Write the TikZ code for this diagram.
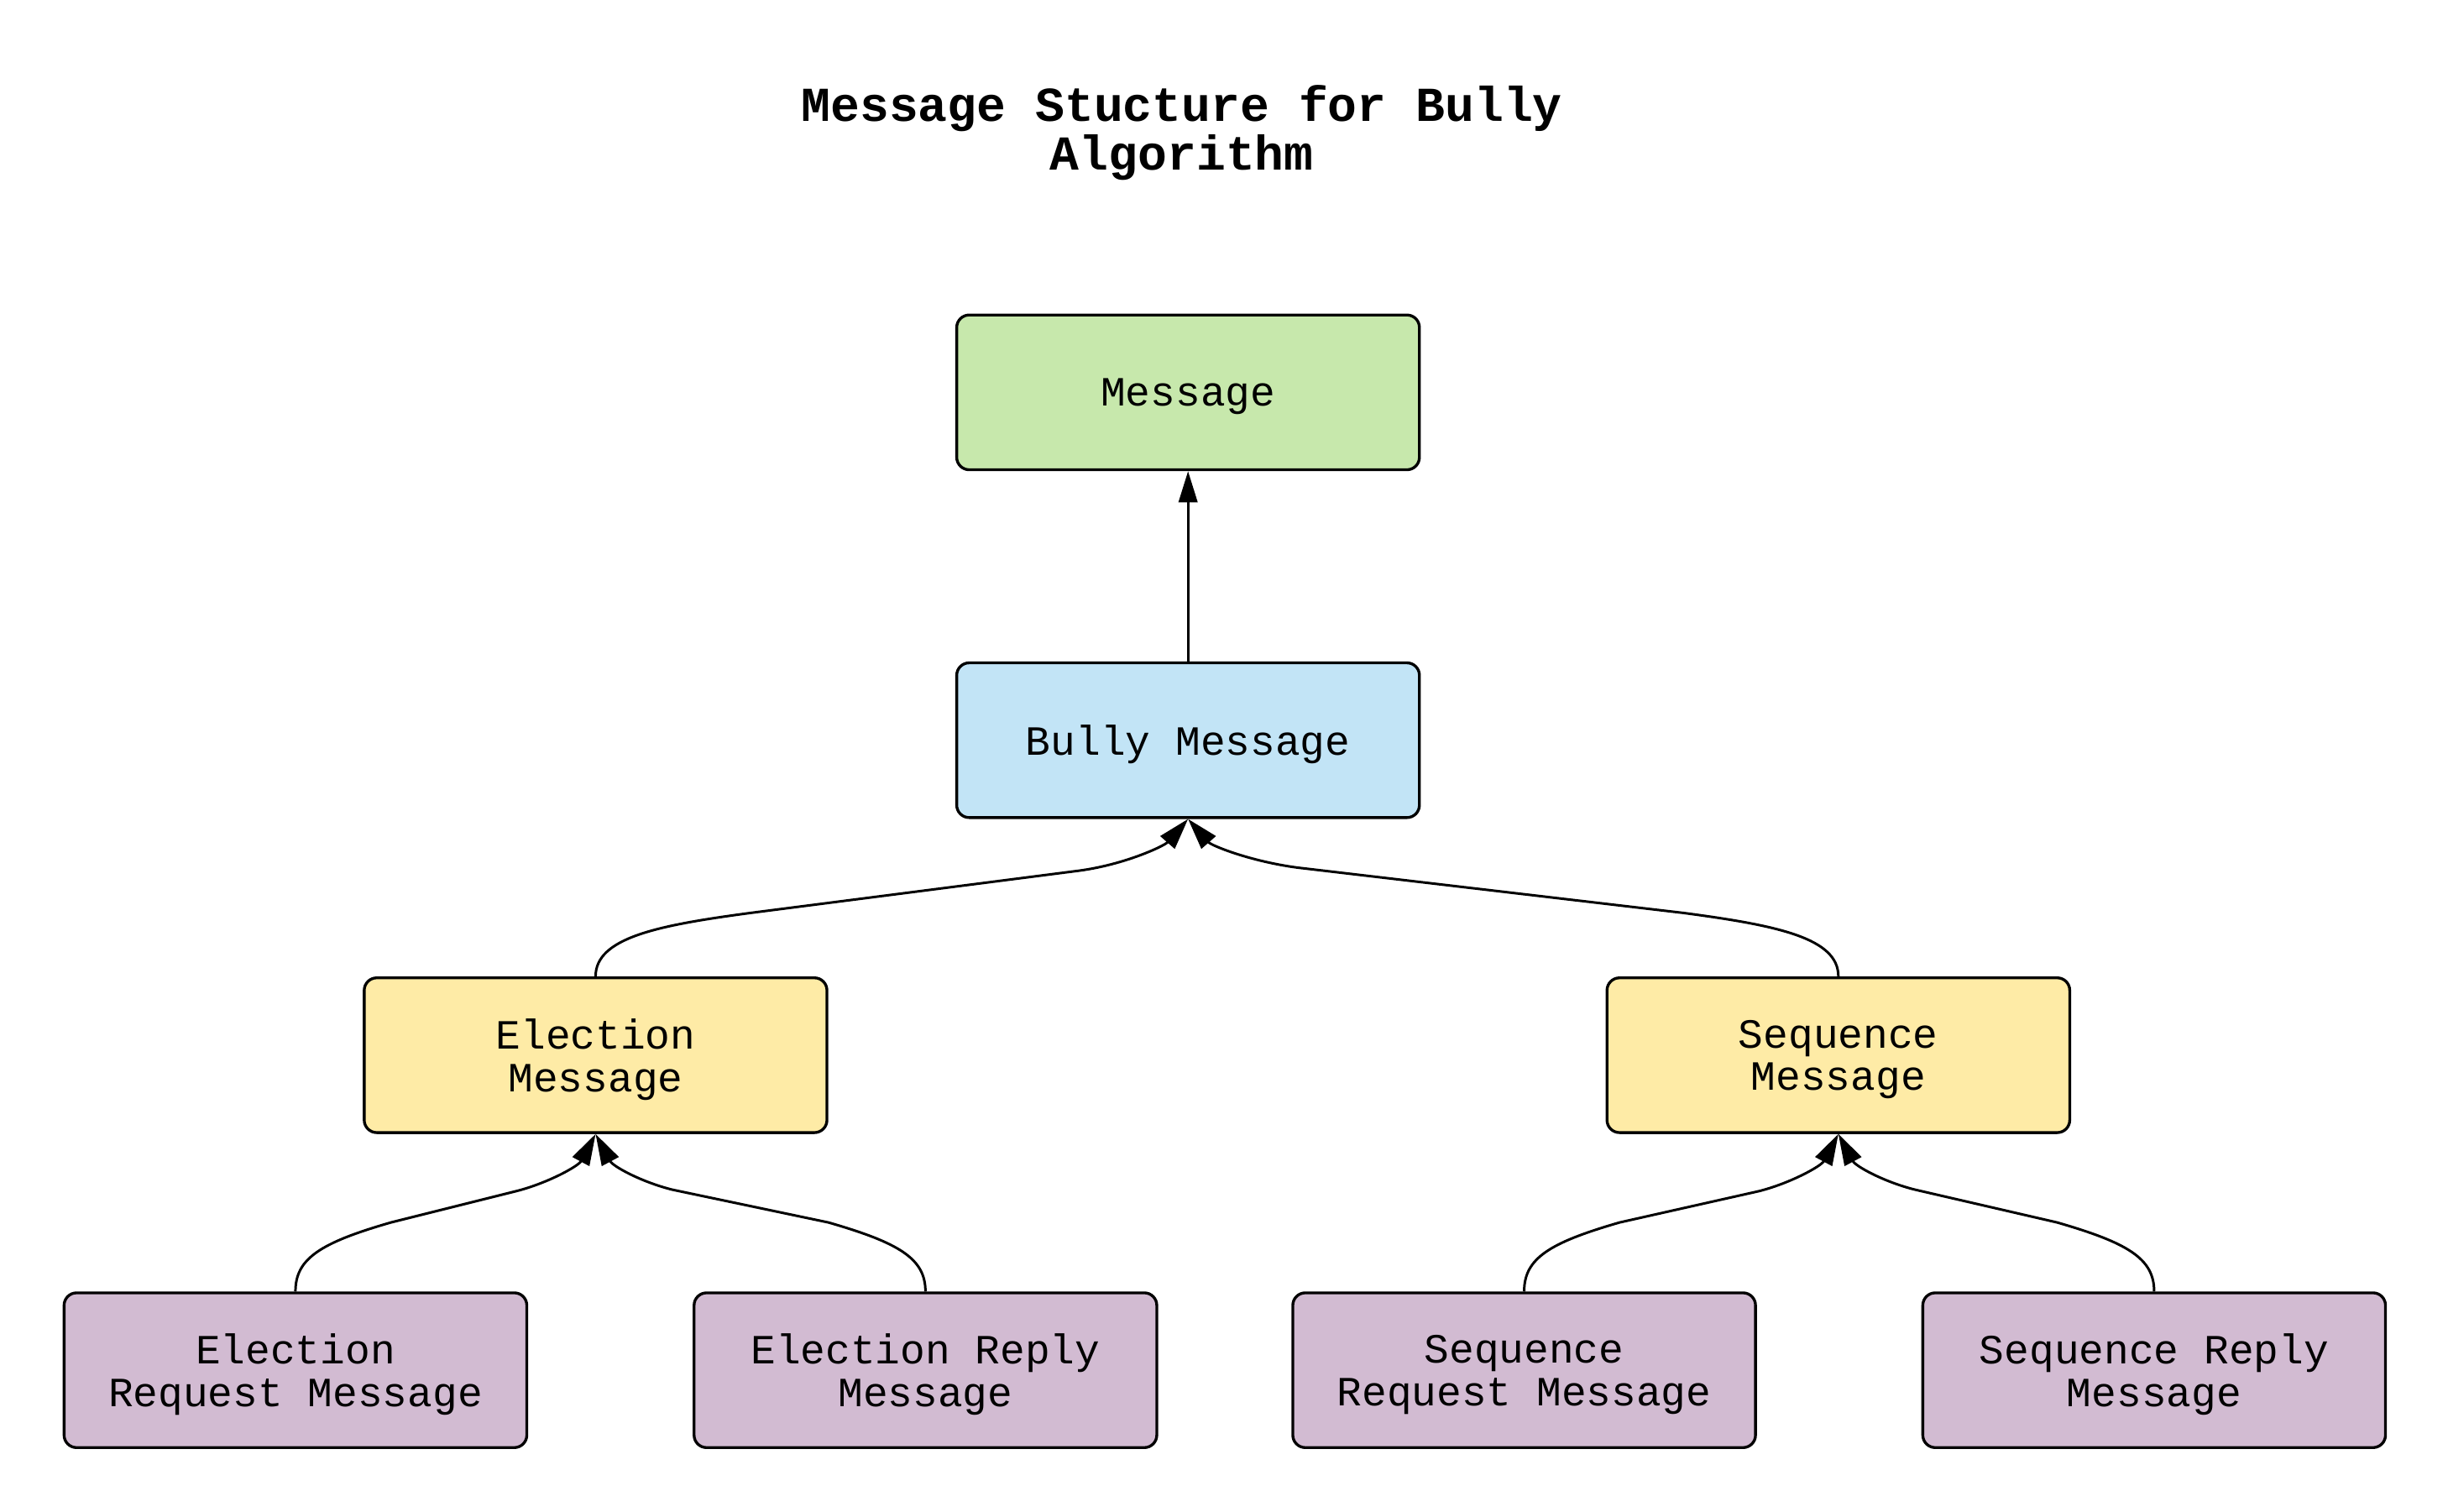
\documentclass[tikz,border=0pt]{standalone}
\usepackage{fontspec}
\setmainfont{Liberation Mono}
\usetikzlibrary{arrows.meta}
\definecolor{cgreen}{HTML}{C7E8AC}
\definecolor{cblue}{HTML}{C2E4F6}
\definecolor{cyellow}{HTML}{FEEBA6}
\definecolor{cpurple}{HTML}{D2BBD2}
\tikzset{
  box/.style={draw=black, line width=0.9pt, rounded corners=4pt, minimum width=148pt, minimum height=49.5pt, inner sep=0pt, align=center, text depth=0pt, font=\fontsize{13.3}{13.6}\selectfont},
  arr/.style={line width=0.8pt, -{Triangle[length=10pt,width=6pt]}},
}
\begin{document}
\begin{tikzpicture}[x=0.5pt,y=-0.5pt]
\useasboundingbox (0,0) rectangle (1566,966.7);
\node[font=\fontsize{15.6}{15.5}\selectfont\bfseries, align=center] (title) at (756,85) {Message Stucture for Bully\\Algorithm};
\node[box, fill=cgreen] (M) at (760,251) {Message};
\node[box, fill=cblue] (B) at (760,473.5) {Bully Message};
\node[box, fill=cyellow] (E) at (381,675) {Election\\Message};
\node[box, fill=cyellow] (S) at (1176,675) {Sequence\\Message};
\node[box, fill=cpurple] (ER) at (189,876.5) {Election\\Request Message};
\node[box, fill=cpurple] (EP) at (592,876.5) {Election Reply\\Message};
\node[box, fill=cpurple] (SR) at (975,876.5) {Sequence\\Request Message};
\node[box, fill=cpurple] (SP) at (1378,876.5) {Sequence Reply\\Message};
\draw[arr] (B.north) -- (M.south);
\draw[arr] (E.north) .. controls (381,600) and (420,592) .. (480,584) -- (690,557) .. controls (720,553) and (745,541) .. (B.south);
\draw[arr] (S.north) .. controls (1176,600) and (1137,592) .. (1077,584) -- (830,555) .. controls (800,551) and (775,541) .. (B.south);
\draw[arr] (ER.north) .. controls (189,805) and (205,795) .. (250,782) -- (330,762) .. controls (350,757) and (370,746) .. (E.south);
\draw[arr] (EP.north) .. controls (592,805) and (575,795) .. (530,782) -- (430,761) .. controls (410,756) and (392,746) .. (E.south);
\draw[arr] (SR.north) .. controls (975,805) and (991,795) .. (1036,782) -- (1125,762) .. controls (1145,757) and (1165,746) .. (S.south);
\draw[arr] (SP.north) .. controls (1378,805) and (1361,795) .. (1316,782) -- (1225,761) .. controls (1205,756) and (1187,746) .. (S.south);
\end{tikzpicture}
\end{document}
